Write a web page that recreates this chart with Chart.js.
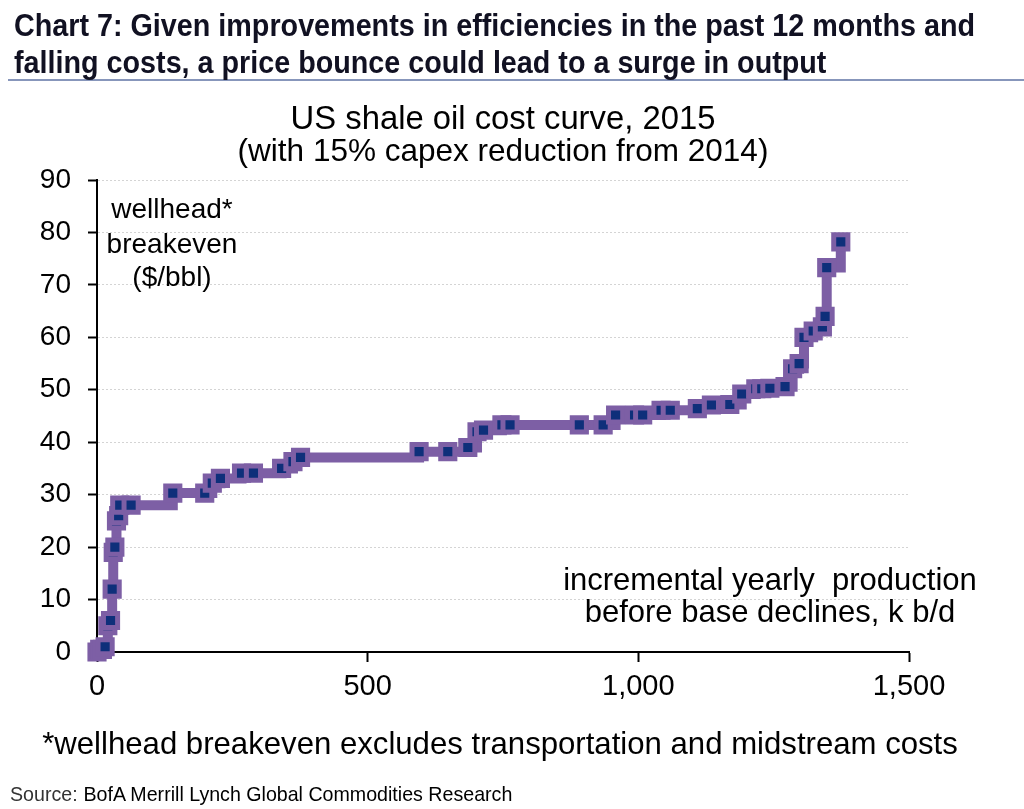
<!DOCTYPE html>
<html><head><meta charset="utf-8">
<script src="https://cdn.jsdelivr.net/npm/chart.js@4/dist/chart.umd.min.js"></script>
<style>
html,body{margin:0;padding:0;background:#fff;}
#wrap{position:relative;width:1024px;height:809px;overflow:hidden;background:#fff;}
canvas{position:absolute;left:0;top:0;}
.t{position:absolute;white-space:pre;line-height:1;color:#000;transform-origin:0 0;}
</style></head><body>
<div id="wrap"><canvas id="c" width="1024" height="809"></canvas>
<div style="position:absolute;left:8px;top:79px;width:1016px;height:2px;background:#8796bb"></div>
</div>
<script>
// ---- data ----
const production = [0, 5, 10, 15, 20, 25, 28, 30, 33, 36, 40, 42, 63, 140, 199, 213, 228, 267, 289, 341, 362, 376, 595, 648, 685, 702, 714, 748, 763, 891, 935, 958, 993, 1008, 1042, 1059, 1109, 1135, 1169, 1191, 1217, 1228, 1243, 1271, 1285, 1297, 1306, 1323, 1340, 1345, 1348, 1374];
const breakeven  = [0, 0.5, 0.5, 1, 5, 6, 12, 19, 20, 25, 26, 28, 28, 30.3, 30.3, 32.2, 33.1, 34.1, 34.1, 35, 36.3, 37.1, 38.2, 38.2, 39, 42, 42.3, 43.3, 43.3, 43.3, 43.3, 45.2, 45.2, 45.2, 46.1, 46.1, 46.4, 47.1, 47.2, 49.2, 50.2, 50.2, 50.3, 50.6, 54, 55, 60, 61.2, 62, 64, 73.3, 78.2];
const xTickValues = [0, 500, 1000, 1500];
const yTickValues = [0, 10, 20, 30, 40, 50, 60, 70, 80, 90];

const titleLines = ["Chart 7: Given improvements in efficiencies in the past 12 months and",
                    "falling costs, a price bounce could lead to a surge in output"];
const subtitleLines = ["US shale oil cost curve, 2015", "(with 15% capex reduction from 2014)"];
const yLabelLines = ["wellhead*", "breakeven", "($/bbl)"];
const xLabelLines = ["incremental yearly  production", "before base declines, k b/d"];
const footnote = "*wellhead breakeven excludes transportation and midstream costs";
const sourceLabel = "Source:";
const sourceText = " BofA Merrill Lynch Global Commodities Research";

const points = production.map((x, i) => ({x: x, y: breakeven[i]}));

const wrap = document.getElementById('wrap');
const mctx = document.createElement('canvas').getContext('2d');
function measure(txt, font){ mctx.font = font; return mctx.measureText(txt).width; }
// size: font size; width: target width (fits by font size, or by horizontal squeeze if size is given too)
function place(txt, o){
  const weight = o.weight || 'normal';
  let fs = o.size;
  let sx = o.sx || 1;
  if (o.width && !o.size) fs = o.width / measure(txt, `${weight} 100px ${o.family}`) * 100;
  const font = `${weight} ${fs}px ${o.family}`;
  let w = measure(txt, font);
  if (o.width && o.size) sx = o.width / w;
  const vw = w * sx;
  const el = document.createElement('div');
  el.className = 't';
  el.textContent = txt;
  el.style.font = font;
  el.style.color = o.color || '#000';
  if (sx !== 1) el.style.transform = `scaleX(${sx})`;
  let left = (o.left !== undefined) ? o.left : (o.right !== undefined ? o.right - vw : o.center - vw/2);
  el.style.left = left + 'px';
  el.style.top = (o.baseline - 0.847*fs) + 'px';
  wrap.appendChild(el);
  return {fs, w: vw, left, sx};
}

const SANS = '"Liberation Sans", Arial, sans-serif';

const t1 = place(titleLines[0], {family: SANS, weight: 'bold', left: 14, size: 31, width: 961, baseline: 34, color: '#111122'});
place(titleLines[1], {family: SANS, weight: 'bold', left: 14, size: 31, sx: t1.sx, baseline: 71, color: '#111122'});
place(subtitleLines[0], {family: SANS, center: 503, width: 425, baseline: 127});
place(subtitleLines[1], {family: SANS, center: 503, width: 531, baseline: 159});
[217, 252, 285].forEach((b, i) => place(yLabelLines[i], {family: SANS, center: 172, size: 28, baseline: b}));
const xl = place(xLabelLines[0], {family: SANS, center: 770, width: 414, baseline: 588});
place(xLabelLines[1], {family: SANS, center: 770, size: xl.fs, baseline: 620});
place(footnote, {family: SANS, center: 500, width: 916, baseline: 752});
const srcScale = 503 / measure(sourceLabel + sourceText, `normal 21px ${SANS}`);
const src = place(sourceLabel, {family: SANS, left: 10, size: 21, sx: srcScale, baseline: 800, color: '#333'});
place(sourceText, {family: SANS, left: 10 + src.w, size: 21, sx: srcScale, baseline: 800, color: '#000'});

Chart.defaults.font.family = SANS;
Chart.defaults.color = '#000';

new Chart(document.getElementById('c'), {
  type: 'line',
  data: {
    datasets: [{
      data: points,
      stepped: true,
      borderColor: '#7d5fa5',
      borderWidth: 10,
      borderCapStyle: 'butt',
      borderJoinStyle: 'miter',
      pointStyle: 'rect',
      pointRadius: 10,
      pointBackgroundColor: '#0e2f7a',
      pointBorderColor: '#7d5fa5',
      pointBorderWidth: 5,
      fill: false,
      clip: false
    }]
  },
  options: {
    responsive: false,
    animation: false,
    events: [],
    layout: {padding: {left: 0, top: 180, right: 115, bottom: 97}},
    plugins: {legend: {display: false}, tooltip: {enabled: false}},
    scales: {
      x: {
        type: 'linear', min: 0, max: 1500,
        afterFit: s => { s.height = 60; },
        afterBuildTicks: s => { s.ticks = xTickValues.map(v => ({value: v})); },
        ticks: {font: {size: 29}, padding: 8, callback: v => v.toLocaleString('en-US'), maxRotation: 0},
        grid: {drawOnChartArea: false, drawTicks: true, tickLength: 10, tickColor: '#000', tickWidth: 2},
        border: {display: true, color: '#000', width: 2}
      },
      y: {
        type: 'linear', min: 0, max: 90,
        afterFit: s => { s.width = 97; },
        afterBuildTicks: s => { s.ticks = yTickValues.map(v => ({value: v})); },
        ticks: {font: {size: 28}, padding: 17},
        grid: {drawOnChartArea: true, color: '#d4d4d4', lineWidth: 1, drawTicks: true, tickLength: 9, tickColor: '#000', tickWidth: 2},
        border: {display: true, color: '#000', width: 2, dash: [2, 2]}
      }
    }
  }
});
</script>
</body></html>
